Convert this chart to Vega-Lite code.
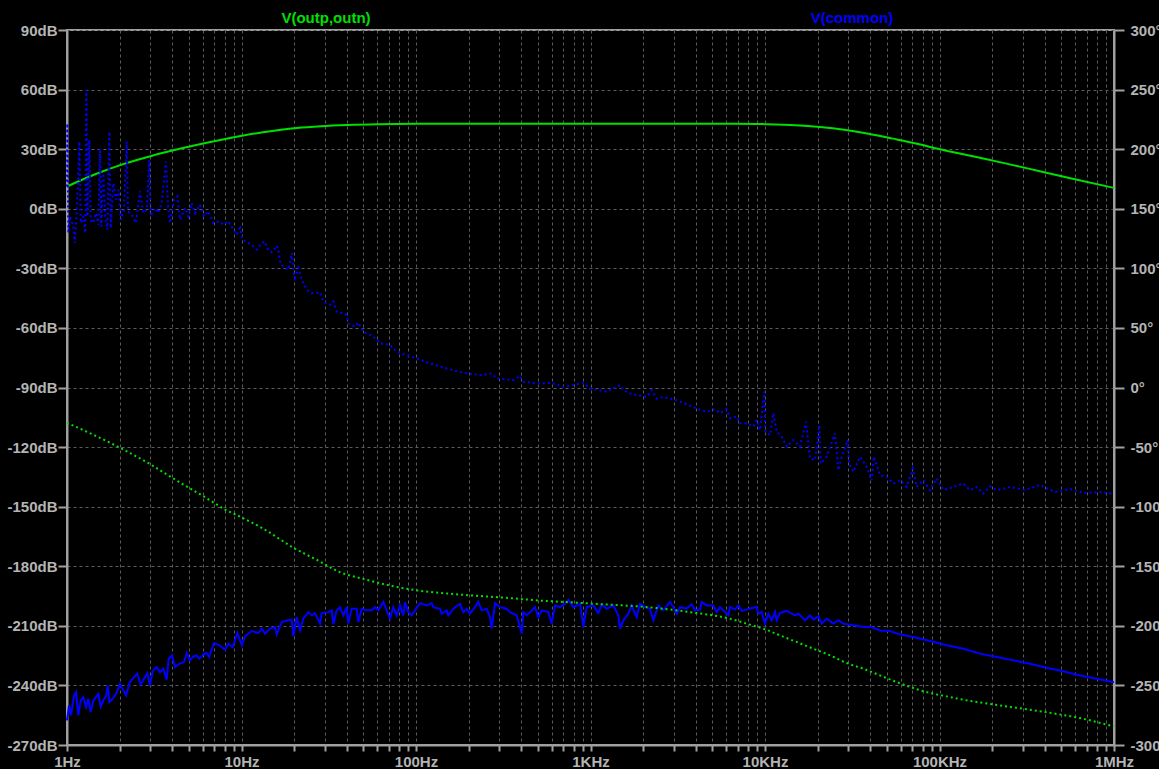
{
  "$schema": "https://vega.github.io/schema/vega-lite/v6.json",
  "width": 1047,
  "height": 715,
  "autosize": "none",
  "padding": {"left": 67, "top": 30, "right": 45, "bottom": 24},
  "background": "#000000",
  "config": {
    "view": {"stroke": "#a0a0a0", "strokeWidth": 2},
    "axis": {
      "labelColor": "#b4b4b4",
      "labelFont": "Liberation Sans",
      "labelFontWeight": "bold",
      "labelFontSize": 15,
      "labelFlush": false,
      "labelOverlap": false,
      "domainColor": "#a0a0a0",
      "domainWidth": 2,
      "tickColor": "#a0a0a0",
      "tickWidth": 2,
      "gridColor": "#5c5c5c",
      "gridDash": [3, 3],
      "gridWidth": 1,
      "title": null
    }
  },
  "datasets": {
    "mag_out": [
      {"f": 1, "v": 11.2}, {"f": 1.426, "v": 17.1}, {"f": 2.037, "v": 22.1}, {"f": 3.041, "v": 26.6},
      {"f": 4.753, "v": 30.8}, {"f": 8.472, "v": 35.5}, {"f": 13.24, "v": 38.5}, {"f": 20.7, "v": 40.7},
      {"f": 28.5, "v": 41.6}, {"f": 40.46, "v": 42.2}, {"f": 60.39, "v": 42.6}, {"f": 100, "v": 42.8},
      {"f": 1000, "v": 42.8}, {"f": 6699, "v": 42.8}, {"f": 10000, "v": 42.6}, {"f": 14930, "v": 42.1},
      {"f": 20610, "v": 41.2}, {"f": 28440, "v": 39.8}, {"f": 39170, "v": 37.8}, {"f": 54080, "v": 35.3},
      {"f": 74470, "v": 32.7}, {"f": 97950, "v": 30.2}, {"f": 155200, "v": 26.4}, {"f": 245500, "v": 22.6},
      {"f": 370700, "v": 19.0}, {"f": 587500, "v": 15.0}, {"f": 1000000, "v": 10.5}
    ],
    "mag_cm": [
      {"f": 1.0, "v": -257.6}, {"f": 1.027, "v": -250.1}, {"f": 1.054, "v": -255.1}, {"f": 1.097, "v": -245.0},
      {"f": 1.126, "v": -243.4}, {"f": 1.161, "v": -255.1}, {"f": 1.198, "v": -247.6}, {"f": 1.24, "v": -245.9},
      {"f": 1.285, "v": -250.9}, {"f": 1.325, "v": -246.7}, {"f": 1.366, "v": -253.4}, {"f": 1.415, "v": -247.6},
      {"f": 1.466, "v": -245.9}, {"f": 1.512, "v": -244.2}, {"f": 1.56, "v": -250.6}, {"f": 1.615, "v": -247.6},
      {"f": 1.673, "v": -245.5}, {"f": 1.711, "v": -240.0}, {"f": 1.748, "v": -248.4}, {"f": 1.827, "v": -246.7},
      {"f": 1.909, "v": -244.2}, {"f": 2.013, "v": -239.2}, {"f": 2.103, "v": -242.5}, {"f": 2.178, "v": -245.0},
      {"f": 2.296, "v": -238.3}, {"f": 2.421, "v": -235.8}, {"f": 2.529, "v": -234.1}, {"f": 2.643, "v": -239.5},
      {"f": 2.763, "v": -236.6}, {"f": 2.886, "v": -233.8}, {"f": 2.989, "v": -240.0}, {"f": 3.096, "v": -232.8},
      {"f": 3.265, "v": -230.8}, {"f": 3.412, "v": -233.3}, {"f": 3.565, "v": -231.6}, {"f": 3.726, "v": -237.1},
      {"f": 3.825, "v": -226.6}, {"f": 3.998, "v": -224.9}, {"f": 4.159, "v": -230.8}, {"f": 4.403, "v": -229.1},
      {"f": 4.683, "v": -228.2}, {"f": 4.851, "v": -223.7}, {"f": 5.068, "v": -227.4}, {"f": 5.297, "v": -225.4},
      {"f": 5.535, "v": -224.9}, {"f": 5.733, "v": -226.6}, {"f": 6.043, "v": -224.4}, {"f": 6.316, "v": -223.7},
      {"f": 6.514, "v": -225.7}, {"f": 6.957, "v": -218.7}, {"f": 7.464, "v": -219.8}, {"f": 8.043, "v": -222.0},
      {"f": 8.405, "v": -219.0}, {"f": 8.901, "v": -220.7}, {"f": 9.464, "v": -213.6}, {"f": 10.05, "v": -219.8},
      {"f": 10.47, "v": -215.3}, {"f": 11.44, "v": -212.6}, {"f": 12.49, "v": -213.6}, {"f": 13.05, "v": -211.4},
      {"f": 13.64, "v": -213.9}, {"f": 14.57, "v": -211.4}, {"f": 15.56, "v": -210.6}, {"f": 15.91, "v": -214.3},
      {"f": 16.99, "v": -208.1}, {"f": 18.55, "v": -207.2}, {"f": 19.39, "v": -206.9}, {"f": 19.82, "v": -215.3},
      {"f": 20.71, "v": -205.6}, {"f": 21.64, "v": -212.3}, {"f": 22.61, "v": -206.4}, {"f": 24.15, "v": -203.1},
      {"f": 25.24, "v": -204.7}, {"f": 26.38, "v": -203.6}, {"f": 28.18, "v": -208.9}, {"f": 28.8, "v": -203.6},
      {"f": 31.45, "v": -203.1}, {"f": 32.86, "v": -202.2}, {"f": 33.59, "v": -209.2}, {"f": 35.11, "v": -202.2},
      {"f": 36.69, "v": -200.6}, {"f": 38.33, "v": -204.7}, {"f": 40.06, "v": -200.6}, {"f": 40.95, "v": -208.9},
      {"f": 42.79, "v": -201.4}, {"f": 45.71, "v": -201.4}, {"f": 46.72, "v": -208.1}, {"f": 48.83, "v": -201.4},
      {"f": 52.17, "v": -202.2}, {"f": 55.7, "v": -202.2}, {"f": 58.21, "v": -200.6}, {"f": 60.83, "v": -202.2},
      {"f": 65.0, "v": -198.0}, {"f": 67.92, "v": -202.2}, {"f": 70.96, "v": -206.4}, {"f": 74.16, "v": -200.6},
      {"f": 77.5, "v": -204.7}, {"f": 80.98, "v": -199.7}, {"f": 84.62, "v": -204.7}, {"f": 86.5, "v": -198.0},
      {"f": 90.38, "v": -203.1}, {"f": 94.45, "v": -204.7}, {"f": 98.7, "v": -202.2}, {"f": 105.4, "v": -198.6},
      {"f": 115.1, "v": -199.7}, {"f": 123.0, "v": -198.6}, {"f": 125.7, "v": -200.6}, {"f": 137.3, "v": -201.4},
      {"f": 140.3, "v": -203.9}, {"f": 149.9, "v": -202.2}, {"f": 153.2, "v": -204.7}, {"f": 163.7, "v": -201.4},
      {"f": 178.7, "v": -198.9}, {"f": 186.7, "v": -203.1}, {"f": 195.1, "v": -201.4}, {"f": 203.9, "v": -203.9},
      {"f": 217.8, "v": -200.6}, {"f": 227.6, "v": -198.0}, {"f": 237.9, "v": -202.2}, {"f": 254.1, "v": -201.4},
      {"f": 265.5, "v": -205.6}, {"f": 271.4, "v": -211.4}, {"f": 283.6, "v": -198.6}, {"f": 302.9, "v": -200.6},
      {"f": 330.8, "v": -201.4}, {"f": 345.7, "v": -203.1}, {"f": 377.6, "v": -204.7}, {"f": 403.3, "v": -213.9},
      {"f": 412.3, "v": -203.1}, {"f": 430.8, "v": -204.7}, {"f": 450.2, "v": -203.1}, {"f": 480.9, "v": -200.6},
      {"f": 502.3, "v": -205.6}, {"f": 525.0, "v": -202.2}, {"f": 573.4, "v": -203.1}, {"f": 599.2, "v": -208.9},
      {"f": 626.1, "v": -199.7}, {"f": 668.8, "v": -200.6}, {"f": 714.4, "v": -198.9}, {"f": 746.5, "v": -196.9},
      {"f": 797.1, "v": -200.6}, {"f": 870.7, "v": -198.9}, {"f": 909.9, "v": -210.6}, {"f": 950.7, "v": -200.6},
      {"f": 1038, "v": -199.7}, {"f": 1109, "v": -203.6}, {"f": 1159, "v": -199.2}, {"f": 1238, "v": -201.4},
      {"f": 1352, "v": -199.7}, {"f": 1444, "v": -204.7}, {"f": 1476, "v": -211.4}, {"f": 1542, "v": -207.2},
      {"f": 1648, "v": -203.9}, {"f": 1722, "v": -199.7}, {"f": 1839, "v": -205.6}, {"f": 1922, "v": -198.9},
      {"f": 2053, "v": -200.6}, {"f": 2193, "v": -201.4}, {"f": 2292, "v": -207.2}, {"f": 2448, "v": -199.7},
      {"f": 2615, "v": -202.2}, {"f": 2855, "v": -198.0}, {"f": 2984, "v": -200.6}, {"f": 3118, "v": -203.9},
      {"f": 3258, "v": -200.6}, {"f": 3557, "v": -201.3}, {"f": 3800, "v": -199.2}, {"f": 3972, "v": -202.2},
      {"f": 4241, "v": -201.8}, {"f": 4335, "v": -198.0}, {"f": 4631, "v": -199.7}, {"f": 5057, "v": -199.7},
      {"f": 5284, "v": -203.0}, {"f": 5523, "v": -200.5}, {"f": 5771, "v": -202.2}, {"f": 6165, "v": -204.7},
      {"f": 6302, "v": -200.5}, {"f": 6731, "v": -201.8}, {"f": 7035, "v": -199.7}, {"f": 7350, "v": -202.5},
      {"f": 8204, "v": -201.3}, {"f": 8960, "v": -200.5}, {"f": 9159, "v": -203.9}, {"f": 9570, "v": -203.0},
      {"f": 10000, "v": -208.9}, {"f": 10450, "v": -203.9}, {"f": 10920, "v": -207.2}, {"f": 11410, "v": -203.0},
      {"f": 11665, "v": -207.2}, {"f": 12190, "v": -203.5}, {"f": 13315, "v": -202.5}, {"f": 14220, "v": -203.9},
      {"f": 14855, "v": -204.7}, {"f": 15525, "v": -203.9}, {"f": 16225, "v": -205.5}, {"f": 16955, "v": -207.2},
      {"f": 18110, "v": -204.7}, {"f": 18925, "v": -206.9}, {"f": 20220, "v": -205.2}, {"f": 21130, "v": -208.9},
      {"f": 22570, "v": -206.4}, {"f": 24640, "v": -208.9}, {"f": 26330, "v": -207.2}, {"f": 28110, "v": -208.9},
      {"f": 32080, "v": -209.7}, {"f": 36610, "v": -210.6}, {"f": 40860, "v": -210.6}, {"f": 45600, "v": -212.3},
      {"f": 52040, "v": -212.6}, {"f": 59380, "v": -214.3}, {"f": 70790, "v": -215.6}, {"f": 88230, "v": -217.6},
      {"f": 109900, "v": -219.8}, {"f": 136970, "v": -221.5}, {"f": 170700, "v": -224.0}, {"f": 212600, "v": -225.7},
      {"f": 264900, "v": -227.4}, {"f": 330100, "v": -229.1}, {"f": 411300, "v": -231.1}, {"f": 512400, "v": -232.9},
      {"f": 638600, "v": -235.0}, {"f": 795700, "v": -236.6}, {"f": 1000000, "v": -238.4}
    ],
    "ph_out": [
      {"f": 1, "v": -29.6}, {"f": 2.013, "v": -50.6}, {"f": 2.989, "v": -64.3}, {"f": 3.981, "v": -75.5},
      {"f": 4.956, "v": -83.9}, {"f": 6.041, "v": -91.2}, {"f": 7.05, "v": -97.3}, {"f": 8.043, "v": -102.4},
      {"f": 8.974, "v": -105.7}, {"f": 10.03, "v": -109.1}, {"f": 12.76, "v": -116.9}, {"f": 20.26, "v": -135.2},
      {"f": 27.55, "v": -145.3}, {"f": 36.69, "v": -155.0}, {"f": 49.89, "v": -160.6}, {"f": 70.96, "v": -166.2},
      {"f": 96.49, "v": -169.8}, {"f": 137.3, "v": -172.3}, {"f": 213.0, "v": -174.6}, {"f": 331.0, "v": -176.5},
      {"f": 513.5, "v": -178.8}, {"f": 796.8, "v": -180.4}, {"f": 1238, "v": -182.1}, {"f": 1922, "v": -183.8},
      {"f": 2982, "v": -186.6}, {"f": 4061, "v": -189.3}, {"f": 5055, "v": -191.2}, {"f": 6302, "v": -194.0},
      {"f": 7857, "v": -198.2}, {"f": 9779, "v": -202.4}, {"f": 12190, "v": -208.0}, {"f": 15200, "v": -213.6},
      {"f": 18920, "v": -219.2}, {"f": 23580, "v": -224.8}, {"f": 29390, "v": -231.2}, {"f": 36590, "v": -236.0},
      {"f": 45600, "v": -241.6}, {"f": 56850, "v": -247.2}, {"f": 70770, "v": -252.2}, {"f": 88230, "v": -256.4},
      {"f": 110000, "v": -259.2}, {"f": 136900, "v": -262.0}, {"f": 170700, "v": -264.3}, {"f": 264800, "v": -268.4},
      {"f": 411500, "v": -272.6}, {"f": 638600, "v": -277.4}, {"f": 1000000, "v": -284.5}
    ],
    "ph_cm": [
      {"f": 1.0, "v": 168.7}, {"f": 1.004, "v": 221.6}, {"f": 1.018, "v": 129.7}, {"f": 1.04, "v": 143.6},
      {"f": 1.087, "v": 135.2}, {"f": 1.111, "v": 121.3}, {"f": 1.146, "v": 157.5}, {"f": 1.177, "v": 206.3},
      {"f": 1.198, "v": 138.0}, {"f": 1.24, "v": 143.6}, {"f": 1.274, "v": 129.7}, {"f": 1.291, "v": 250.0},
      {"f": 1.308, "v": 143.6}, {"f": 1.343, "v": 207.7}, {"f": 1.366, "v": 140.8}, {"f": 1.415, "v": 138.0},
      {"f": 1.466, "v": 146.4}, {"f": 1.512, "v": 136.6}, {"f": 1.546, "v": 200.7}, {"f": 1.573, "v": 135.2},
      {"f": 1.615, "v": 179.8}, {"f": 1.658, "v": 143.6}, {"f": 1.703, "v": 132.5}, {"f": 1.748, "v": 214.6},
      {"f": 1.78, "v": 133.8}, {"f": 1.843, "v": 171.4}, {"f": 1.909, "v": 157.5}, {"f": 1.978, "v": 165.9},
      {"f": 2.031, "v": 140.8}, {"f": 2.122, "v": 149.2}, {"f": 2.198, "v": 206.3}, {"f": 2.237, "v": 147.8},
      {"f": 2.348, "v": 145.0}, {"f": 2.485, "v": 138.0}, {"f": 2.62, "v": 164.5}, {"f": 2.738, "v": 146.4},
      {"f": 2.861, "v": 149.2}, {"f": 2.964, "v": 190.9}, {"f": 3.017, "v": 143.6}, {"f": 3.193, "v": 150.6},
      {"f": 3.337, "v": 146.4}, {"f": 3.487, "v": 154.7}, {"f": 3.692, "v": 189.6}, {"f": 3.791, "v": 152.0},
      {"f": 3.893, "v": 138.0}, {"f": 4.104, "v": 157.5}, {"f": 4.289, "v": 160.3}, {"f": 4.443, "v": 140.8},
      {"f": 4.746, "v": 150.6}, {"f": 4.96, "v": 143.6}, {"f": 5.183, "v": 154.7}, {"f": 5.416, "v": 146.4},
      {"f": 5.783, "v": 153.3}, {"f": 6.097, "v": 143.6}, {"f": 6.455, "v": 147.8}, {"f": 6.896, "v": 138.0},
      {"f": 7.464, "v": 139.4}, {"f": 7.868, "v": 136.6}, {"f": 8.405, "v": 139.4}, {"f": 8.979, "v": 132.5},
      {"f": 9.383, "v": 128.3}, {"f": 9.804, "v": 133.8}, {"f": 10.15, "v": 124.1}, {"f": 10.94, "v": 121.3},
      {"f": 11.69, "v": 118.5}, {"f": 12.22, "v": 115.7}, {"f": 12.76, "v": 119.1}, {"f": 13.51, "v": 122.8},
      {"f": 14.25, "v": 115.2}, {"f": 14.89, "v": 113.5}, {"f": 15.91, "v": 119.1}, {"f": 16.26, "v": 115.2},
      {"f": 16.62, "v": 105.9}, {"f": 17.36, "v": 101.1}, {"f": 18.55, "v": 98.9}, {"f": 19.47, "v": 112.9},
      {"f": 19.82, "v": 97.5}, {"f": 20.26, "v": 91.9}, {"f": 21.17, "v": 100.3}, {"f": 22.13, "v": 90.4},
      {"f": 23.63, "v": 82.0}, {"f": 25.24, "v": 79.2}, {"f": 28.18, "v": 79.8}, {"f": 29.44, "v": 72.2},
      {"f": 32.15, "v": 69.4}, {"f": 33.59, "v": 72.2}, {"f": 35.11, "v": 63.8}, {"f": 40.06, "v": 61.0},
      {"f": 40.95, "v": 53.9}, {"f": 44.71, "v": 51.1}, {"f": 46.72, "v": 54.5}, {"f": 49.92, "v": 46.9},
      {"f": 56.95, "v": 42.7}, {"f": 62.19, "v": 37.1}, {"f": 70.96, "v": 35.7}, {"f": 77.5, "v": 30.1},
      {"f": 88.43, "v": 27.2}, {"f": 100.9, "v": 24.4}, {"f": 120.3, "v": 20.2}, {"f": 149.9, "v": 16.0},
      {"f": 186.7, "v": 12.4}, {"f": 232.7, "v": 10.4}, {"f": 271.4, "v": 11.8}, {"f": 290.0, "v": 7.6},
      {"f": 361.4, "v": 6.2}, {"f": 394.5, "v": 9.6}, {"f": 412.3, "v": 4.8}, {"f": 491.7, "v": 3.4},
      {"f": 599.2, "v": 3.9}, {"f": 698.9, "v": 0.6}, {"f": 909.9, "v": 3.9}, {"f": 993.4, "v": -0.8},
      {"f": 1238, "v": -3.6}, {"f": 1476, "v": 2.0}, {"f": 1542, "v": -2.2}, {"f": 1684, "v": -5.1},
      {"f": 2098, "v": -7.9}, {"f": 2242, "v": -2.2}, {"f": 2395, "v": -9.3}, {"f": 2615, "v": -7.9},
      {"f": 3118, "v": -10.7}, {"f": 4241, "v": -18.8}, {"f": 4631, "v": -20.2}, {"f": 5170, "v": -18.3},
      {"f": 5523, "v": -21.6}, {"f": 6031, "v": -18.3}, {"f": 6302, "v": -25.8}, {"f": 6881, "v": -24.4},
      {"f": 7190, "v": -30.1}, {"f": 7852, "v": -30.1}, {"f": 8573, "v": -32.9}, {"f": 8960, "v": -27.2},
      {"f": 9361, "v": -35.7}, {"f": 9913, "v": -3.4}, {"f": 10040, "v": -37.1}, {"f": 10690, "v": -39.9},
      {"f": 11160, "v": -21.6}, {"f": 11665, "v": -37.1}, {"f": 12460, "v": -41.3}, {"f": 13315, "v": -49.7},
      {"f": 14540, "v": -44.1}, {"f": 15870, "v": -49.7}, {"f": 17180, "v": -28.7}, {"f": 18110, "v": -59.6},
      {"f": 19340, "v": -61.0}, {"f": 20480, "v": -31.5}, {"f": 20840, "v": -63.8}, {"f": 22570, "v": -58.1},
      {"f": 25180, "v": -38.5}, {"f": 26330, "v": -69.4}, {"f": 27510, "v": -58.1}, {"f": 29780, "v": -44.1},
      {"f": 30310, "v": -63.8}, {"f": 32080, "v": -70.8}, {"f": 35030, "v": -58.1}, {"f": 38240, "v": -66.6},
      {"f": 40860, "v": -77.8}, {"f": 42130, "v": -58.1}, {"f": 45600, "v": -73.6}, {"f": 49800, "v": -75.0},
      {"f": 54380, "v": -80.6}, {"f": 59380, "v": -77.8}, {"f": 64830, "v": -83.4}, {"f": 70200, "v": -68.0},
      {"f": 73980, "v": -83.4}, {"f": 80800, "v": -77.8}, {"f": 88230, "v": -86.2}, {"f": 96330, "v": -76.4},
      {"f": 105200, "v": -86.2}, {"f": 120000, "v": -83.4}, {"f": 136900, "v": -80.6}, {"f": 149600, "v": -86.2},
      {"f": 163300, "v": -83.4}, {"f": 178300, "v": -89.0}, {"f": 194700, "v": -82.9}, {"f": 212600, "v": -86.2},
      {"f": 253600, "v": -83.5}, {"f": 309000, "v": -86.0}, {"f": 376700, "v": -81.8}, {"f": 459200, "v": -87.7},
      {"f": 559700, "v": -85.2}, {"f": 682300, "v": -88.6}, {"f": 831800, "v": -87.7}, {"f": 1000000, "v": -89.4}
    ],
    "labels": [
      {"label": "V(outp,outn)", "f": 30.5},
      {"label": "V(common)", "f": 31500}
    ]
  },
  "layer": [
    {
      "layer": [
        {
          "data": {"name": "mag_cm"},
          "mark": {"type": "line", "color": "#0000ff", "strokeWidth": 2, "interpolate": "linear"},
          "encoding": {
            "x": {"field": "f", "type": "quantitative"},
            "y": {"field": "v", "type": "quantitative"}
          }
        },
        {
          "data": {"name": "mag_out"},
          "mark": {"type": "line", "color": "#00e000", "strokeWidth": 2, "interpolate": "monotone"},
          "encoding": {
            "x": {
              "field": "f",
              "type": "quantitative",
              "scale": {"type": "log", "domain": [1, 1000000], "nice": false},
              "axis": {
                "orient": "bottom",
                "grid": true,
                "tickSize": 6,
                "labelPadding": 3,
                "values": [1,2,3,4,5,6,7,8,9,10,20,30,40,50,60,70,80,90,100,200,300,400,500,600,700,800,900,1000,2000,3000,4000,5000,6000,7000,8000,9000,10000,20000,30000,40000,50000,60000,70000,80000,90000,100000,200000,300000,400000,500000,600000,700000,800000,900000,1000000],
                "labelExpr": "datum.value == 1 ? '1Hz' : datum.value == 10 ? '10Hz' : datum.value == 100 ? '100Hz' : datum.value == 1000 ? '1KHz' : datum.value == 10000 ? '10KHz' : datum.value == 100000 ? '100KHz' : datum.value == 1000000 ? '1MHz' : ''"
              }
            },
            "y": {
              "field": "v",
              "type": "quantitative",
              "scale": {"domain": [-270, 90], "nice": false, "zero": false},
              "axis": {
                "orient": "left",
                "grid": true,
                "tickSize": 9,
                "labelPadding": 1,
                "values": [-270, -240, -210, -180, -150, -120, -90, -60, -30, 0, 30, 60, 90],
                "labelExpr": "datum.value + 'dB'"
              }
            }
          }
        },
        {
          "data": {"name": "labels"},
          "mark": {"type": "text", "baseline": "bottom", "dy": -4, "font": "Liberation Sans", "fontWeight": "bold", "fontSize": 15, "align": "center"},
          "encoding": {
            "x": {"field": "f", "type": "quantitative"},
            "y": {"datum": 90},
            "text": {"field": "label", "type": "nominal"},
            "color": {
              "field": "label",
              "type": "nominal",
              "scale": {"domain": ["V(outp,outn)", "V(common)"], "range": ["#00e000", "#0000ff"]},
              "legend": null
            }
          }
        }
      ]
    },
    {
      "layer": [
        {
          "data": {"name": "ph_out"},
          "mark": {"type": "line", "color": "#00e000", "strokeWidth": 2, "strokeDash": [2, 3], "interpolate": "monotone"},
          "encoding": {
            "x": {"field": "f", "type": "quantitative"},
            "y": {
              "field": "v",
              "type": "quantitative",
              "scale": {"domain": [-300, 300], "nice": false, "zero": false},
              "axis": {
                "orient": "right",
                "grid": false,
                "tickSize": 10,
                "labelPadding": 6,
                "values": [-300, -250, -200, -150, -100, -50, 0, 50, 100, 150, 200, 250, 300],
                "labelExpr": "datum.value + '°'"
              }
            }
          }
        },
        {
          "data": {"name": "ph_cm"},
          "mark": {"type": "line", "color": "#0000ff", "strokeWidth": 2, "strokeDash": [2, 3], "interpolate": "linear"},
          "encoding": {
            "x": {"field": "f", "type": "quantitative"},
            "y": {"field": "v", "type": "quantitative"}
          }
        }
      ]
    }
  ],
  "resolve": {"scale": {"y": "independent"}}
}
